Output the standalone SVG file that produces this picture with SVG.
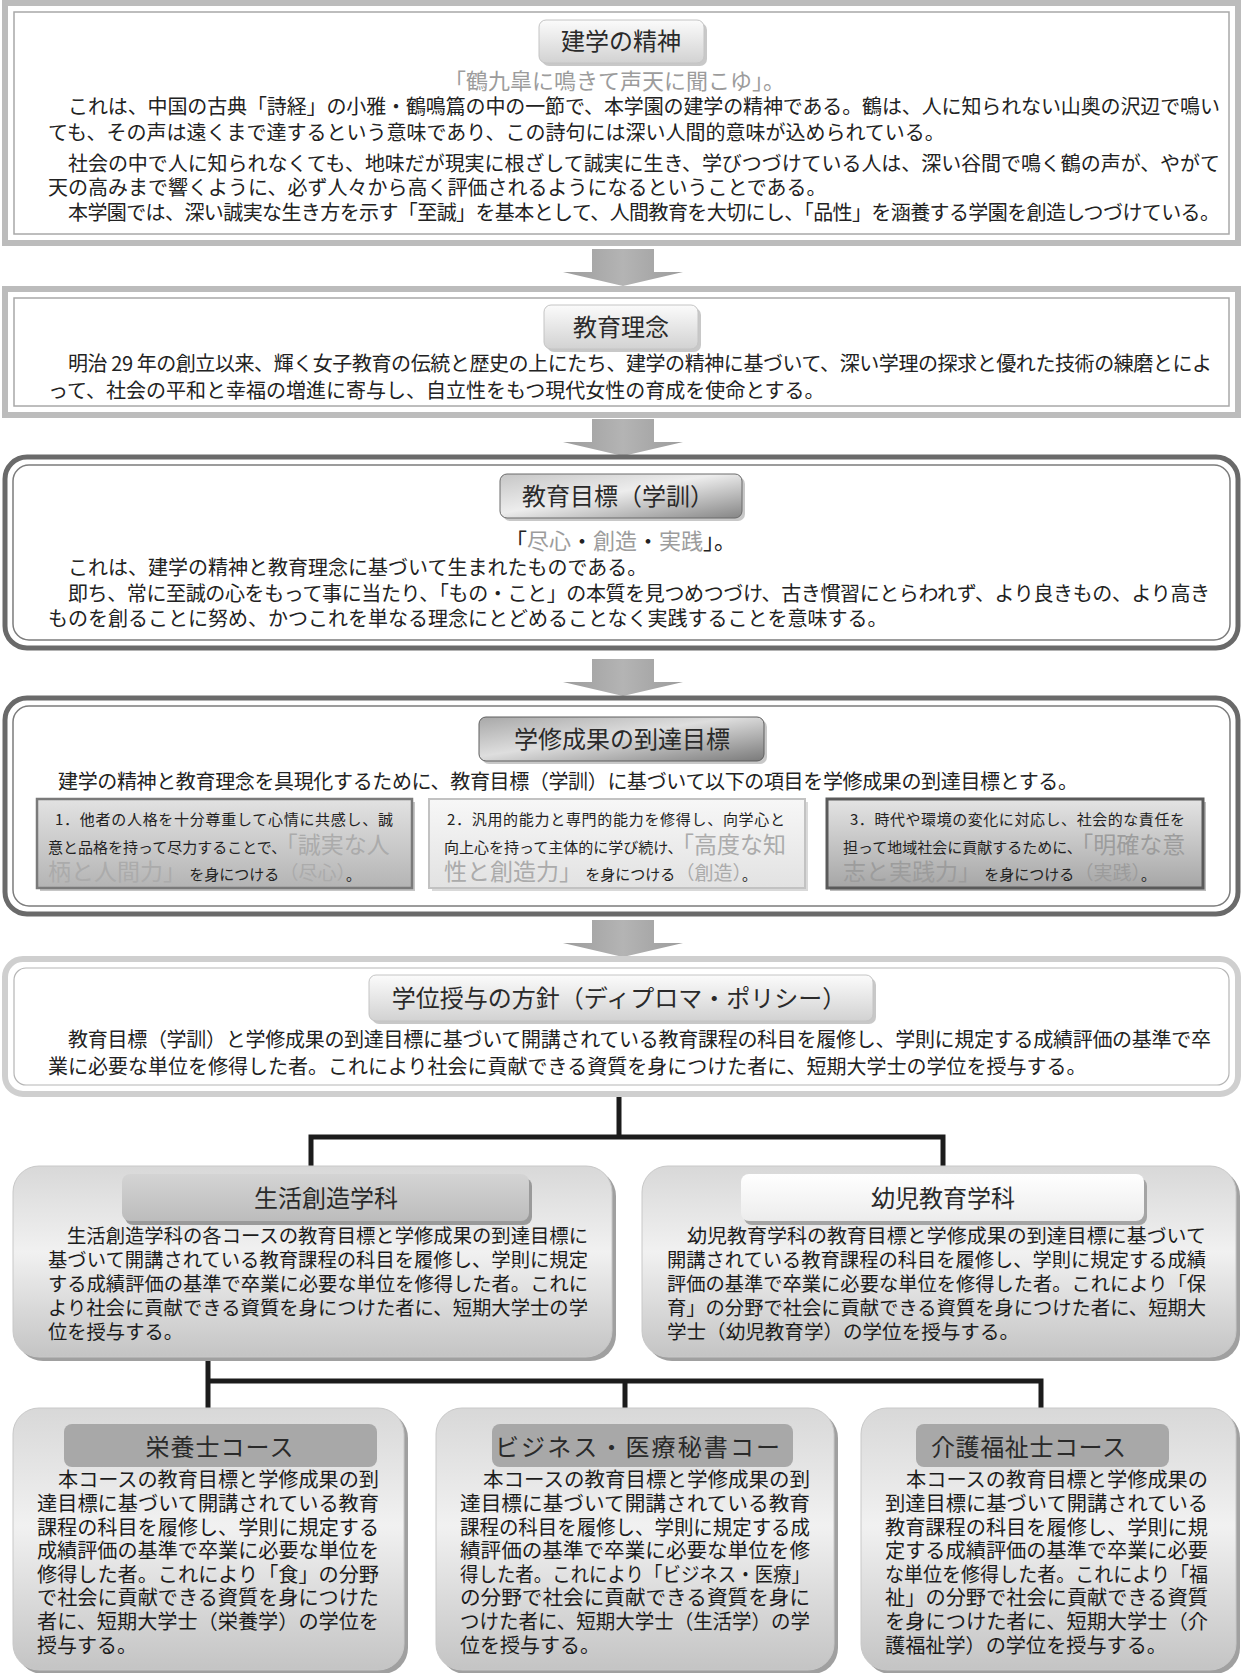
<svg xmlns="http://www.w3.org/2000/svg" width="1243" height="1673" viewBox="0 0 1243 1673">
<defs>
<style>
text{font-family:"Noto Sans CJK JP","Noto Sans CJK SC",sans-serif;fill:#222;}
.b{font-size:20px;}
.ti{font-size:24px;fill:#2a2a2a;}
.g{fill:#9c9c9c;}
.gl{fill:#ababab;}
.s{font-size:15px;}
.L{font-size:23px;}
.M{font-size:19px;}
.d{font-size:19.5px;fill:#1c1c1c;}
.c{font-size:20px;fill:#1c1c1c;}
.sqf{fill:none;stroke:#bcbcbc;stroke-width:6;}
.sqi{fill:#fff;stroke:#a8a8a8;stroke-width:1.5;}
.rdf{fill:none;stroke:#6a6a6a;stroke-width:5;}
.rdi{fill:#fff;stroke:#7c7c7c;stroke-width:1.5;}
.ltf{fill:none;stroke:#cfcfcf;stroke-width:6;}
.lti{fill:#fff;stroke:#b5b5b5;stroke-width:1.2;}
.sh{fill:#9a9a9a;opacity:.55;}
.con{stroke:#1c1c1c;stroke-width:5;fill:none;stroke-linecap:square;}
</style>
<linearGradient id="pillL" x1="0" y1="0" x2="0" y2="1"><stop offset="0" stop-color="#fbfbfb"/><stop offset="1" stop-color="#d2d2d2"/></linearGradient>
<linearGradient id="pillD" x1="0" y1="0" x2="1" y2="1"><stop offset="0" stop-color="#c6c6c6"/><stop offset="0.45" stop-color="#ededed"/><stop offset="1" stop-color="#858585"/></linearGradient>
<linearGradient id="pillD2" x1="0" y1="0" x2="1" y2="1"><stop offset="0" stop-color="#a8a8a8"/><stop offset="0.45" stop-color="#dedede"/><stop offset="1" stop-color="#7a7a7a"/></linearGradient>
<linearGradient id="arr" x1="0" y1="0" x2="1" y2="0"><stop offset="0" stop-color="#9c9c9c"/><stop offset="0.5" stop-color="#b4b4b4"/><stop offset="1" stop-color="#9c9c9c"/></linearGradient>
<linearGradient id="box" x1="0" y1="0" x2="0" y2="1"><stop offset="0" stop-color="#d8d8d8"/><stop offset="0.45" stop-color="#f1f1f1"/><stop offset="1" stop-color="#c4c4c4"/></linearGradient>
<linearGradient id="b1" x1="0" y1="0" x2="0" y2="1"><stop offset="0" stop-color="#e2e2e2"/><stop offset="1" stop-color="#b4b4b4"/></linearGradient>
<linearGradient id="b2" x1="0" y1="0" x2="0" y2="1"><stop offset="0" stop-color="#f7f7f7"/><stop offset="1" stop-color="#e2e2e2"/></linearGradient>
<linearGradient id="b3" x1="0" y1="0" x2="0" y2="1"><stop offset="0" stop-color="#e4e4e4"/><stop offset="1" stop-color="#a6a6a6"/></linearGradient>
<linearGradient id="pG" x1="0" y1="0" x2="0" y2="1"><stop offset="0" stop-color="#d4d4d4"/><stop offset="1" stop-color="#bcbcbc"/></linearGradient>
<linearGradient id="pW" x1="0" y1="0" x2="0" y2="1"><stop offset="0" stop-color="#ffffff"/><stop offset="1" stop-color="#ececec"/></linearGradient>
<path id="arrow" d="M-31,0 H31 V23 H60 L0,37 L-60,23 H-31 Z" fill="url(#arr)"/>
</defs>
<rect width="1243" height="1673" fill="#fff"/>

<g id="connectors">
<use href="#arrow" x="623" y="249"/>
<use href="#arrow" x="623" y="419"/>
<use href="#arrow" x="623" y="659"/>
<use href="#arrow" x="623" y="920"/>
<path class="con" d="M619,1097 V1137 M311,1166 V1137 H943 V1166"/>
<path class="con" d="M208,1360 V1381 M208,1408 V1381 H1041 V1408 M625,1381 V1408"/>
</g>

<g id="n-kengaku">
<rect class="sqf" x="5" y="3" width="1233" height="240"/>
<rect class="sqi" x="14" y="12" width="1215" height="222"/>
<rect class="sh" x="542" y="23" width="165" height="43" rx="7"/>
<rect x="539" y="20" width="165" height="43" rx="7" fill="url(#pillL)" stroke="#c4c4c4"/>
<text class="ti" x="621" y="50" text-anchor="middle">建学の精神</text>
<text x="444" y="89" font-size="22" class="g">「鶴九皐に鳴きて声天に聞こゆ」。</text>
<text class="b" x="68" y="114" textLength="1152" lengthAdjust="spacing">これは、中国の古典「詩経」の小雅・鶴鳴篇の中の一節で、本学園の建学の精神である。鶴は、人に知られない山奥の沢辺で鳴い</text>
<text class="b" x="48" y="140">ても、その声は遠くまで達するという意味であり、この詩句には深い人間的意味が込められている。</text>
<text class="b" x="68" y="171" textLength="1152" lengthAdjust="spacing">社会の中で人に知られなくても、地味だが現実に根ざして誠実に生き、学びつづけている人は、深い谷間で鳴く鶴の声が、やがて</text>
<text class="b" x="48" y="195">天の高みまで響くように、必ず人々から高く評価されるようになるということである。</text>
<text class="b" x="68" y="220" textLength="1152" lengthAdjust="spacing">本学園では、深い誠実な生き方を示す「至誠」を基本として、人間教育を大切にし、「品性」を涵養する学園を創造しつづけている。</text>
</g>

<g id="n-rinen">
<rect class="sqf" x="5" y="289" width="1233" height="126"/>
<rect class="sqi" x="14" y="298" width="1215" height="108"/>
<rect class="sh" x="547" y="308" width="154" height="44" rx="7"/>
<rect x="544" y="305" width="154" height="44" rx="7" fill="url(#pillL)" stroke="#c4c4c4"/>
<text class="ti" x="621" y="336" text-anchor="middle">教育理念</text>
<text class="b" x="68" y="371" textLength="1144" lengthAdjust="spacing">明治 29 年の創立以来、輝く女子教育の伝統と歴史の上にたち、建学の精神に基づいて、深い学理の探求と優れた技術の練磨とによ</text>
<text class="b" x="48" y="398">って、社会の平和と幸福の増進に寄与し、自立性をもつ現代女性の育成を使命とする。</text>
</g>

<g id="n-mokuhyo">
<rect class="rdf" x="5" y="457" width="1233" height="191" rx="22"/>
<rect class="rdi" x="13" y="465" width="1217" height="175" rx="16"/>
<rect class="sh" x="503" y="477" width="242" height="44" rx="7"/>
<rect x="500" y="474" width="242" height="44" rx="7" fill="url(#pillD)" stroke="#6a6a6a"/>
<text class="ti" x="618" y="505" text-anchor="middle">教育目標（学訓）</text>
<text x="505" y="549" font-size="22">「<tspan class="g">尽心</tspan>・<tspan class="g">創造</tspan>・<tspan class="g">実践</tspan>」。</text>
<text class="b" x="68" y="575">これは、建学の精神と教育理念に基づいて生まれたものである。</text>
<text class="b" x="68" y="601" textLength="1142" lengthAdjust="spacing">即ち、常に至誠の心をもって事に当たり、「もの・こと」の本質を見つめつづけ、古き慣習にとらわれず、より良きもの、より高き</text>
<text class="b" x="48" y="626">ものを創ることに努め、かつこれを単なる理念にとどめることなく実践することを意味する。</text>
</g>

<g id="n-seika">
<rect class="rdf" x="5" y="698" width="1233" height="216" rx="22"/>
<rect class="rdi" x="13" y="706" width="1217" height="200" rx="16"/>
<rect class="sh" x="482" y="720" width="285" height="44" rx="7"/>
<rect x="479" y="717" width="285" height="44" rx="7" fill="url(#pillD2)" stroke="#5e5e5e"/>
<text class="ti" x="622" y="748" text-anchor="middle">学修成果の到達目標</text>
<text class="b" x="58" y="789" textLength="1020" lengthAdjust="spacing">建学の精神と教育理念を具現化するために、教育目標（学訓）に基づいて以下の項目を学修成果の到達目標とする。</text>
<g id="n-seika-1">
<rect x="40" y="802" width="375" height="89" fill="#a0a0a0" opacity=".6"/>
<rect x="37" y="799" width="375" height="89" fill="url(#b1)" stroke="#7a7a7a" stroke-width="2.5"/>
<text class="s" x="55" y="825" textLength="338" lengthAdjust="spacing">1．他者の人格を十分尊重して心情に共感し、誠</text>
<text x="48" y="853"><tspan class="s">意と品格を持って尽力することで、</tspan><tspan class="L gl">「誠実な人</tspan></text>
<text x="48" y="880"><tspan class="L gl">柄と人間力」</tspan><tspan class="s"> を身につける</tspan><tspan class="M gl">（尽心）</tspan><tspan class="s">。</tspan></text>
</g>
<g id="n-seika-2">
<rect x="432" y="802" width="376" height="89" fill="#c0c0c0" opacity=".6"/>
<rect x="429" y="799" width="376" height="89" fill="url(#b2)" stroke="#c2c2c2" stroke-width="2"/>
<text class="s" x="447" y="825" textLength="338" lengthAdjust="spacing">2．汎用的能力と専門的能力を修得し、向学心と</text>
<text x="444" y="853"><tspan class="s">向上心を持って主体的に学び続け、</tspan><tspan class="L gl">「高度な知</tspan></text>
<text x="444" y="880"><tspan class="L gl">性と創造力」</tspan><tspan class="s"> を身につける</tspan><tspan class="M gl">（創造）</tspan><tspan class="s">。</tspan></text>
</g>
<g id="n-seika-3">
<rect x="830" y="802" width="376" height="89" fill="#909090" opacity=".6"/>
<rect x="827" y="799" width="376" height="89" fill="url(#b3)" stroke="#5a5a5a" stroke-width="3"/>
<text class="s" x="850" y="825" textLength="335" lengthAdjust="spacing">3．時代や環境の変化に対応し、社会的な責任を</text>
<text x="843" y="853"><tspan class="s">担って地域社会に貢献するために、</tspan><tspan class="L g">「明確な意</tspan></text>
<text x="843" y="880"><tspan class="L g">志と実践力」</tspan><tspan class="s"> を身につける</tspan><tspan class="M g">（実践）</tspan><tspan class="s">。</tspan></text>
</g>
</g>

<g id="n-dp">
<rect class="ltf" x="5" y="959" width="1233" height="135" rx="18"/>
<rect class="lti" x="14" y="968" width="1215" height="117" rx="12"/>
<rect class="sh" x="372" y="978" width="504" height="46" rx="7"/>
<rect x="369" y="975" width="504" height="46" rx="7" fill="url(#pillL)" stroke="#c4c4c4"/>
<text class="ti" x="619" y="1007" text-anchor="middle">学位授与の方針（ディプロマ・ポリシー）</text>
<text class="b" x="68" y="1047" textLength="1143" lengthAdjust="spacing">教育目標（学訓）と学修成果の到達目標に基づいて開講されている教育課程の科目を履修し、学則に規定する成績評価の基準で卒</text>
<text class="b" x="48" y="1074">業に必要な単位を修得した者。これにより社会に貢献できる資質を身につけた者に、短期大学士の学位を授与する。</text>
</g>

<g id="n-seikatsu">
<rect x="17" y="1170" width="599" height="191" rx="26" fill="#a0a0a0"/>
<rect x="13" y="1166" width="599" height="191" rx="26" fill="url(#box)" stroke="#c8c8c8"/>
<rect x="125" y="1178" width="407" height="47" rx="8" fill="#9a9a9a"/>
<rect x="122" y="1174" width="407" height="47" rx="8" fill="url(#pG)"/>
<text class="ti" x="326" y="1207" text-anchor="middle">生活創造学科</text>
<text class="d" x="67" y="1243" textLength="521" lengthAdjust="spacingAndGlyphs">生活創造学科の各コースの教育目標と学修成果の到達目標に</text>
<text class="d" x="48" y="1267" textLength="540" lengthAdjust="spacingAndGlyphs">基づいて開講されている教育課程の科目を履修し、学則に規定</text>
<text class="d" x="48" y="1291" textLength="540" lengthAdjust="spacingAndGlyphs">する成績評価の基準で卒業に必要な単位を修得した者。これに</text>
<text class="d" x="48" y="1315" textLength="540" lengthAdjust="spacingAndGlyphs">より社会に貢献できる資質を身につけた者に、短期大学士の学</text>
<text class="d" x="48" y="1339" textLength="135" lengthAdjust="spacingAndGlyphs">位を授与する。</text>
</g>

<g id="n-youji">
<rect x="646" y="1170" width="594" height="191" rx="26" fill="#a0a0a0"/>
<rect x="642" y="1166" width="594" height="191" rx="26" fill="url(#box)" stroke="#c8c8c8"/>
<rect x="744" y="1178" width="403" height="47" rx="8" fill="#a4a4a4"/>
<rect x="741" y="1174" width="403" height="47" rx="8" fill="url(#pW)"/>
<text class="ti" x="943" y="1207" text-anchor="middle">幼児教育学科</text>
<text class="d" x="687" y="1243" textLength="519" lengthAdjust="spacingAndGlyphs">幼児教育学科の教育目標と学修成果の到達目標に基づいて</text>
<text class="d" x="667" y="1267" textLength="539" lengthAdjust="spacingAndGlyphs">開講されている教育課程の科目を履修し、学則に規定する成績</text>
<text class="d" x="667" y="1291" textLength="539" lengthAdjust="spacingAndGlyphs">評価の基準で卒業に必要な単位を修得した者。これにより「保</text>
<text class="d" x="667" y="1315" textLength="539" lengthAdjust="spacingAndGlyphs">育」の分野で社会に貢献できる資質を身につけた者に、短期大</text>
<text class="d" x="667" y="1339" textLength="352" lengthAdjust="spacingAndGlyphs">学士（幼児教育学）の学位を授与する。</text>
</g>

<g id="n-eiyou">
<rect x="17" y="1412" width="391" height="262" rx="26" fill="#a0a0a0"/>
<rect x="13" y="1408" width="391" height="262" rx="26" fill="url(#box)" stroke="#c8c8c8"/>
<rect x="64" y="1424" width="313" height="43" rx="8" fill="#a8a8a8"/>
<text class="ti" x="220" y="1456" text-anchor="middle" letter-spacing="1">栄養士コース</text>
<text class="c" x="58" y="1487" textLength="321" lengthAdjust="spacingAndGlyphs">本コースの教育目標と学修成果の到</text>
<text class="c" x="37" y="1511" textLength="342" lengthAdjust="spacingAndGlyphs">達目標に基づいて開講されている教育</text>
<text class="c" x="37" y="1535" textLength="342" lengthAdjust="spacingAndGlyphs">課程の科目を履修し、学則に規定する</text>
<text class="c" x="37" y="1558" textLength="342" lengthAdjust="spacingAndGlyphs">成績評価の基準で卒業に必要な単位を</text>
<text class="c" x="37" y="1582" textLength="342" lengthAdjust="spacingAndGlyphs">修得した者。これにより「食」の分野</text>
<text class="c" x="37" y="1605" textLength="342" lengthAdjust="spacingAndGlyphs">で社会に貢献できる資質を身につけた</text>
<text class="c" x="37" y="1629" textLength="342" lengthAdjust="spacingAndGlyphs">者に、短期大学士（栄養学）の学位を</text>
<text class="c" x="37" y="1653" textLength="100" lengthAdjust="spacingAndGlyphs">授与する。</text>
</g>

<g id="n-business">
<rect x="440" y="1412" width="398" height="262" rx="26" fill="#a0a0a0"/>
<rect x="436" y="1408" width="398" height="262" rx="26" fill="url(#box)" stroke="#c8c8c8"/>
<rect x="492" y="1424" width="301" height="43" rx="8" fill="#a8a8a8"/>
<text class="ti" x="495" y="1456" textLength="285" lengthAdjust="spacing">ビジネス・医療秘書コー</text>
<text class="c" x="483" y="1487" textLength="327" lengthAdjust="spacingAndGlyphs">本コースの教育目標と学修成果の到</text>
<text class="c" x="460" y="1511" textLength="350" lengthAdjust="spacingAndGlyphs">達目標に基づいて開講されている教育</text>
<text class="c" x="460" y="1535" textLength="350" lengthAdjust="spacingAndGlyphs">課程の科目を履修し、学則に規定する成</text>
<text class="c" x="460" y="1558" textLength="350" lengthAdjust="spacingAndGlyphs">績評価の基準で卒業に必要な単位を修</text>
<text class="c" x="460" y="1582" textLength="350" lengthAdjust="spacingAndGlyphs">得した者。これにより「ビジネス・医療」</text>
<text class="c" x="460" y="1605" textLength="350" lengthAdjust="spacingAndGlyphs">の分野で社会に貢献できる資質を身に</text>
<text class="c" x="460" y="1629" textLength="350" lengthAdjust="spacingAndGlyphs">つけた者に、短期大学士（生活学）の学</text>
<text class="c" x="460" y="1653" textLength="140" lengthAdjust="spacingAndGlyphs">位を授与する。</text>
</g>

<g id="n-kaigo">
<rect x="865" y="1412" width="375" height="262" rx="26" fill="#a0a0a0"/>
<rect x="861" y="1408" width="375" height="262" rx="26" fill="url(#box)" stroke="#c8c8c8"/>
<rect x="916" y="1424" width="253" height="43" rx="8" fill="#a8a8a8"/>
<text class="ti" x="931" y="1456" textLength="195" lengthAdjust="spacing">介護福祉士コース</text>
<text class="c" x="906" y="1487" textLength="302" lengthAdjust="spacingAndGlyphs">本コースの教育目標と学修成果の</text>
<text class="c" x="885" y="1511" textLength="323" lengthAdjust="spacingAndGlyphs">到達目標に基づいて開講されている</text>
<text class="c" x="885" y="1535" textLength="323" lengthAdjust="spacingAndGlyphs">教育課程の科目を履修し、学則に規</text>
<text class="c" x="885" y="1558" textLength="323" lengthAdjust="spacingAndGlyphs">定する成績評価の基準で卒業に必要</text>
<text class="c" x="885" y="1582" textLength="323" lengthAdjust="spacingAndGlyphs">な単位を修得した者。これにより「福</text>
<text class="c" x="885" y="1605" textLength="323" lengthAdjust="spacingAndGlyphs">祉」の分野で社会に貢献できる資質</text>
<text class="c" x="885" y="1629" textLength="323" lengthAdjust="spacingAndGlyphs">を身につけた者に、短期大学士（介</text>
<text class="c" x="885" y="1653" textLength="282" lengthAdjust="spacingAndGlyphs">護福祉学）の学位を授与する。</text>
</g>
</svg>
